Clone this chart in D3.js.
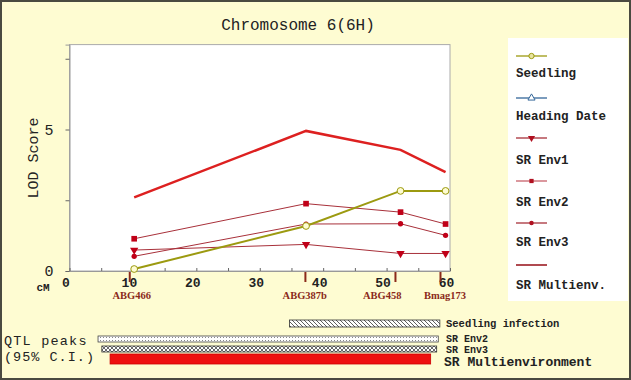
<!DOCTYPE html>
<html><head><meta charset="utf-8">
<script src="https://cdn.jsdelivr.net/npm/d3@7"></script>
<style>body{margin:0;background:#fff}svg{display:block}</style>
</head><body>
<script>
// ---------- data ----------
const title = "Chromosome 6(6H)";
const positions = [10.2, 37.3, 52.2, 59.3];            // cM of the marker loci (data points)
const markerNames = ["ABG466", "ABG387b", "ABG458", "Bmag173"];
const markerTicks = [9.5, 37.2, 51.4, 58.5];
const markerLabelPos = [9.8, 37.1, 49.3, 59.2];
const seedling   = [0.07, 1.59, 2.83, 2.83];
const srEnv1     = [0.74, 0.94, 0.62, 0.62];
const srEnv2     = [1.14, 2.38, 2.08, 1.66];
const srEnv3     = [0.52, 1.66, 1.67, 1.26];
const srMulti    = [2.60, 4.95, 4.28, 3.49];
const xTicks = [0, 10, 20, 30, 40, 50, 60];
const yTickLabels = [0, 5];
const legendNames = ["Seedling", "Heading Date", "SR Env1", "SR Env2", "SR Env3", "SR Multienv."];
const qtlNames  = ["Seedling infection", "SR Env2", "SR Env3", "SR Multienvironment"];
const qtlStart  = [34.7, 4.5, 5.1, 6.4];
const qtlEnd    = [58.4, 58.15, 57.9, 56.95];

// ---------- setup ----------
const W = 631, H = 380;
const svg = d3.select("body").append("svg").attr("width", W).attr("height", H);
const mono = "'Liberation Mono','Courier New',monospace";
const serif = "'Liberation Serif','Times New Roman',serif";

svg.append("rect").attr("x",1).attr("y",1).attr("width",W-2).attr("height",H-2)
  .attr("fill","#fefcd2").attr("stroke","#4a4a40").attr("stroke-width",2);

const defs = svg.append("defs");
const ph = defs.append("pattern").attr("id","hatch").attr("patternUnits","userSpaceOnUse").attr("width",4).attr("height",4);
ph.append("rect").attr("width",4).attr("height",4).attr("fill","#fff");
ph.append("path").attr("d","M-1,-1 L5,5 M-1,3 L1,5 M3,-1 L5,1").attr("stroke","#333").attr("stroke-width",0.8);
const pd = defs.append("pattern").attr("id","dots").attr("patternUnits","userSpaceOnUse").attr("width",3).attr("height",3);
pd.append("rect").attr("width",3).attr("height",3).attr("fill","#fff");
pd.append("rect").attr("x",1).attr("y",1).attr("width",1).attr("height",1).attr("fill","#888");
const pc = defs.append("pattern").attr("id","cross").attr("patternUnits","userSpaceOnUse").attr("width",4).attr("height",4);
pc.append("rect").attr("width",4).attr("height",4).attr("fill","#fff");
pc.append("path").attr("d","M0,0 L4,4 M4,0 L0,4").attr("stroke","#444").attr("stroke-width",0.8);

const x = d3.scaleLinear().domain([0,60]).range([69.5,450]);
const y = d3.scaleLinear().domain([0,8]).range([271,44.6]);

// title
svg.append("text").attr("x",298).attr("y",30).attr("text-anchor","middle")
  .attr("font-family",mono).attr("font-size",16).attr("fill","#222").text(title);

// plot area
svg.append("rect").attr("x",x(0)).attr("y",y(8)).attr("width",x(60)-x(0)).attr("height",y(0)-y(8))
  .attr("fill","#fff").attr("stroke","#aaa").attr("stroke-width",1);

// y axis
const yAxis = d3.axisLeft(y).tickValues([0,2.5,5,7.5]).tickSize(4).tickPadding(12)
  .tickFormat(d => yTickLabels.includes(d) ? d : "");
const gy = svg.append("g").attr("transform",`translate(${x(0)},0)`).call(yAxis);
gy.select(".domain").attr("stroke","#999");
gy.selectAll(".tick line").attr("stroke","#666");
gy.selectAll("text").attr("font-family",mono).attr("font-size",15).attr("fill","#222");

svg.append("text").attr("transform",`translate(38,158) rotate(-90)`).attr("text-anchor","middle")
  .attr("font-family",mono).attr("font-size",15).attr("fill","#222").text("LOD Score");

// x axis (minor inward ticks every 5)
const xAxis = d3.axisBottom(x).tickValues(d3.range(0,61,5)).tickSizeInner(-3).tickSizeOuter(0).tickPadding(10)
  .tickFormat(d => xTicks.includes(d) ? d : "");
const gx = svg.append("g").attr("transform",`translate(0,${y(0)})`).call(xAxis);
gx.select(".domain").attr("stroke","#999");
gx.selectAll(".tick line").attr("stroke","#666");
gx.selectAll("text").attr("font-family",mono).attr("font-weight","bold").attr("font-size",13)
  .attr("fill","#222").attr("dx",-4).attr("dy","0.45em");
svg.append("text").attr("x",43).attr("y",291).attr("text-anchor","middle")
  .attr("font-family",mono).attr("font-weight","bold").attr("font-size",11).attr("fill","#222").text("cM");

// marker ticks and names
const mk = svg.append("g");
mk.selectAll("line").data(markerTicks).join("line")
  .attr("x1",d=>x(d)).attr("x2",d=>x(d)).attr("y1",y(0)+1).attr("y2",y(0)+11)
  .attr("stroke","#8b2a1a").attr("stroke-width",2);
mk.selectAll("text").data(markerNames).join("text")
  .attr("x",(d,i)=>x(markerLabelPos[i])).attr("y",299).attr("text-anchor","middle")
  .attr("font-family",serif).attr("font-weight","bold").attr("font-size",10.5).attr("fill","#8b2a1a").text(d=>d);

// series
const line = d3.line().x((d,i)=>x(positions[i])).y(d=>y(d));
const series = [
  {name:"SR Env2", v:srEnv2, color:"#a8303a", w:1, sym:d3.symbolSquare, size:32, fill:"#c00018"},
  {name:"SR Env3", v:srEnv3, color:"#a8303a", w:1, sym:d3.symbolCircle, size:22, fill:"#c00018"},
  {name:"SR Env1", v:srEnv1, color:"#a8303a", w:1, sym:d3.symbolTriangle, size:30, fill:"#c00018", rot:180},
  {name:"Seedling", v:seedling, color:"#9c9a10", w:2, sym:d3.symbolCircle, size:36, fill:"#fefcd2", stroke:"#9c9a10"},
  {name:"SR Multienv.", v:srMulti, color:"#dd2020", w:2.5}
];
series.forEach(s=>{
  svg.append("path").datum(s.v).attr("d",line).attr("fill","none").attr("stroke",s.color).attr("stroke-width",s.w);
  if(s.sym){
    svg.append("g").selectAll("path").data(s.v).join("path")
      .attr("transform",(d,i)=>`translate(${x(positions[i])},${y(d)}) rotate(${s.rot||0})`)
      .attr("d",d3.symbol().type(s.sym).size(s.size))
      .attr("fill",s.fill).attr("stroke",s.stroke||"none").attr("stroke-width",1);
  }
});

// legend
svg.append("rect").attr("x",508).attr("y",38).attr("width",120).attr("height",263).attr("fill","#fff");
const legLineY = [56, 98, 138, 181, 223, 265];
const legTextY = [77, 120, 164, 206, 246, 289];
const legColor = ["#9c9a10","#336699","#a8303a","#c8606a","#a8303a","#b04a50"];
const legSym = [
  {t:d3.symbolCircle,s:22,f:"#e8e4a0",st:"#9c9a10"},
  {t:d3.symbolTriangle,s:22,f:"#fff",st:"#336699"},
  {t:d3.symbolTriangle,s:22,f:"#b01020",st:"none",r:180},
  {t:d3.symbolSquare,s:18,f:"#b01020",st:"none"},
  {t:d3.symbolCircle,s:16,f:"#b01020",st:"none"},
  null
];
const lg = svg.append("g");
legendNames.forEach((n,i)=>{
  lg.append("line").attr("x1",516).attr("x2",547).attr("y1",legLineY[i]).attr("y2",legLineY[i])
    .attr("stroke",legColor[i]).attr("stroke-width",i===5?2:1.3);
  if(legSym[i]){
    lg.append("path").attr("transform",`translate(531.5,${legLineY[i]}) rotate(${legSym[i].r||0})`)
      .attr("d",d3.symbol().type(legSym[i].t).size(legSym[i].s))
      .attr("fill",legSym[i].f).attr("stroke",legSym[i].st);
  }
  lg.append("text").attr("x",516).attr("y",legTextY[i]).attr("font-family",mono).attr("font-weight","bold")
    .attr("font-size",12.5).attr("fill","#222").text(n);
});

// QTL bars
const barY = [320, 336, 346, 354];
const barH = [7, 6, 6, 10];
const barFill = ["url(#hatch)","url(#dots)","url(#cross)","#ee1010"];
const barStroke = ["#333","#444","#333","#cc0000"];
const qg = svg.append("g");
qtlNames.forEach((n,i)=>{
  qg.append("rect").attr("x",x(qtlStart[i])).attr("y",barY[i]).attr("width",x(qtlEnd[i])-x(qtlStart[i]))
    .attr("height",barH[i]).attr("fill",barFill[i]).attr("stroke",barStroke[i]).attr("stroke-width",0.8);
});
const qLabelX = [446, 446, 446, 444];
const qLabelY = [327, 342, 353, 366];
const qLabelSize = [10.5, 10, 10, 13];
qtlNames.forEach((n,i)=>{
  qg.append("text").attr("x",qLabelX[i]).attr("y",qLabelY[i]).attr("font-family",mono).attr("font-weight","bold")
    .attr("font-size",qLabelSize[i]).attr("fill","#222").text(n);
});
svg.append("text").attr("x",4).attr("y",345).attr("font-family",mono).attr("font-size",13.5)
  .attr("letter-spacing",1.2).attr("fill","#222").text("QTL peaks");
svg.append("text").attr("x",4).attr("y",361).attr("font-family",mono).attr("font-size",13.5)
  .attr("letter-spacing",1).attr("fill","#222").text("(95% C.I.)");
</script>
</body></html>
